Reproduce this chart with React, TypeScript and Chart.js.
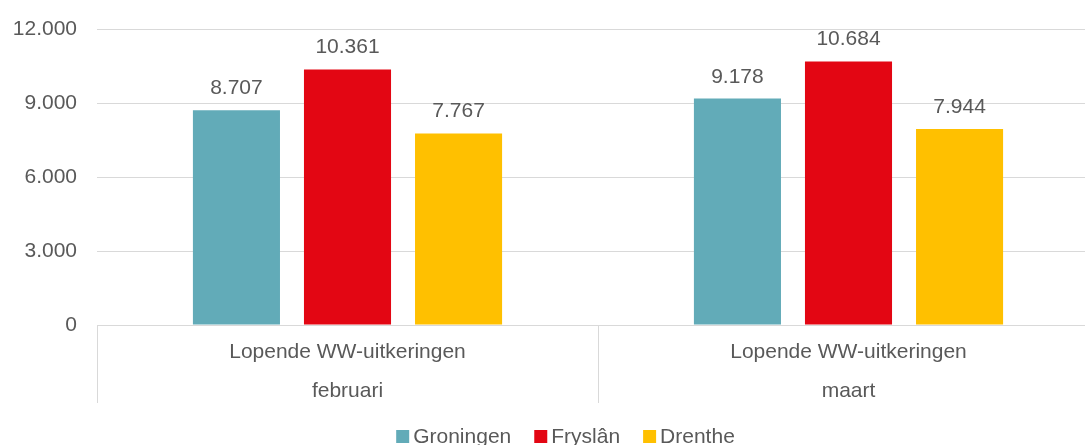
import React, { useEffect, useRef } from 'react';
import { Chart, registerables } from 'chart.js';

Chart.register(...registerables);

const categoryTop = ['Lopende WW-uitkeringen', 'Lopende WW-uitkeringen'];
const categoryMonth = ['februari', 'maart'];
const seriesNames = ['Groningen', 'Fryslân', 'Drenthe'];
const groningen = [8707, 9178];
const fryslan = [10361, 10684];
const drenthe = [7767, 7944];
const yMin = 0;
const yMax = 12000;
const yStep = 3000;

const COLORS = ['#62ABB8', '#E30613', '#FFC000'];
const FONT = '"Liberation Sans", Arial, sans-serif';
const TEXT = '#595959';
const GRID = '#d9d9d9';
const CANVAS_W = 1131;
const CANVAS_H = 458;

function fmt(n: number): string {
  return String(Math.round(n)).replace(/\B(?=(\d{3})+(?!\d))/g, '.');
}

const overlay = {
  id: 'overlay',
  afterDatasetsDraw(chart: any) {
    const ctx = chart.ctx as CanvasRenderingContext2D;
    const ca = chart.chartArea;
    const xs = chart.scales.x;
    ctx.save();
    ctx.font = `21px ${FONT}`;
    ctx.fillStyle = TEXT;
    ctx.textAlign = 'center';
    ctx.textBaseline = 'alphabetic';
    // data labels
    chart.data.datasets.forEach((ds: any, di: number) => {
      const meta = chart.getDatasetMeta(di);
      meta.data.forEach((bar: any, i: number) => {
        ctx.fillText(fmt(ds.data[i]), bar.x, bar.y - 16);
      });
    });
    // category axis dividers
    const n = chart.data.labels.length;
    const w = (ca.right - ca.left) / n;
    ctx.strokeStyle = GRID;
    ctx.lineWidth = 1;
    for (let i = 0; i <= n; i++) {
      const x = Math.round(ca.left + i * w) + 0.5;
      ctx.beginPath();
      ctx.moveTo(x, ca.bottom);
      ctx.lineTo(x, ca.bottom + 78);
      ctx.stroke();
    }
    for (let i = 0; i < n; i++) {
      const x = xs.getPixelForValue(i);
      ctx.fillText(categoryTop[i], x, ca.bottom + 33);
      ctx.fillText(categoryMonth[i], x, ca.bottom + 72);
    }
    // legend
    const box = 13;
    const boxGap = 4;
    const itemGap = 23;
    const widths = seriesNames.map((s) => ctx.measureText(s).width);
    const total = widths.reduce((a, b) => a + b + box + boxGap, 0) + itemGap * (seriesNames.length - 1);
    let lx = chart.width / 2 - total / 2;
    const baseY = 443;
    ctx.textAlign = 'left';
    seriesNames.forEach((s, i) => {
      ctx.fillStyle = COLORS[i];
      ctx.fillRect(lx, baseY - box, box, box);
      ctx.fillStyle = TEXT;
      ctx.fillText(s, lx + box + boxGap, baseY);
      lx += box + boxGap + widths[i] + itemGap;
    });
    ctx.restore();
  },
};

export default function App() {
  const ref = useRef<HTMLCanvasElement | null>(null);
  useEffect(() => {
    if (!ref.current) return;
    const chart = new Chart(ref.current, {
      type: 'bar',
      data: {
        labels: categoryMonth,
        datasets: [
          { label: seriesNames[0], data: groningen, backgroundColor: COLORS[0] },
          { label: seriesNames[1], data: fryslan, backgroundColor: COLORS[1] },
          { label: seriesNames[2], data: drenthe, backgroundColor: COLORS[2] },
        ],
      },
      options: {
        responsive: false,
        animation: false,
        devicePixelRatio: 1,
        layout: { padding: { top: 29, left: 0, right: 32, bottom: 133 } },
        datasets: {
          bar: { categoryPercentage: 0.665, barPercentage: 0.784 },
        },
        plugins: {
          legend: { display: false },
          tooltip: { enabled: false },
        },
        scales: {
          x: {
            display: false,
          },
          y: {
            min: yMin,
            max: yMax,
            afterFit(s: any) {
              s.width = 97;
            },
            border: { display: false },
            grid: { color: GRID, lineWidth: 1, drawTicks: true, tickLength: 20, tickColor: 'rgba(0,0,0,0)' },
            ticks: {
              stepSize: yStep,
              padding: 0,
              color: TEXT,
              font: { family: FONT, size: 21 },
              callback: (v: any) => fmt(Number(v)),
            },
          },
        },
      },
      plugins: [overlay],
    });
    return () => chart.destroy();
  }, []);
  return (
    <div style={{ position: 'fixed', left: 0, top: 0, width: 1085, height: 445, overflow: 'hidden', background: '#fff' }}>
      <canvas ref={ref} width={CANVAS_W} height={CANVAS_H} style={{ width: CANVAS_W, height: CANVAS_H, display: 'block' }} />
    </div>
  );
}
